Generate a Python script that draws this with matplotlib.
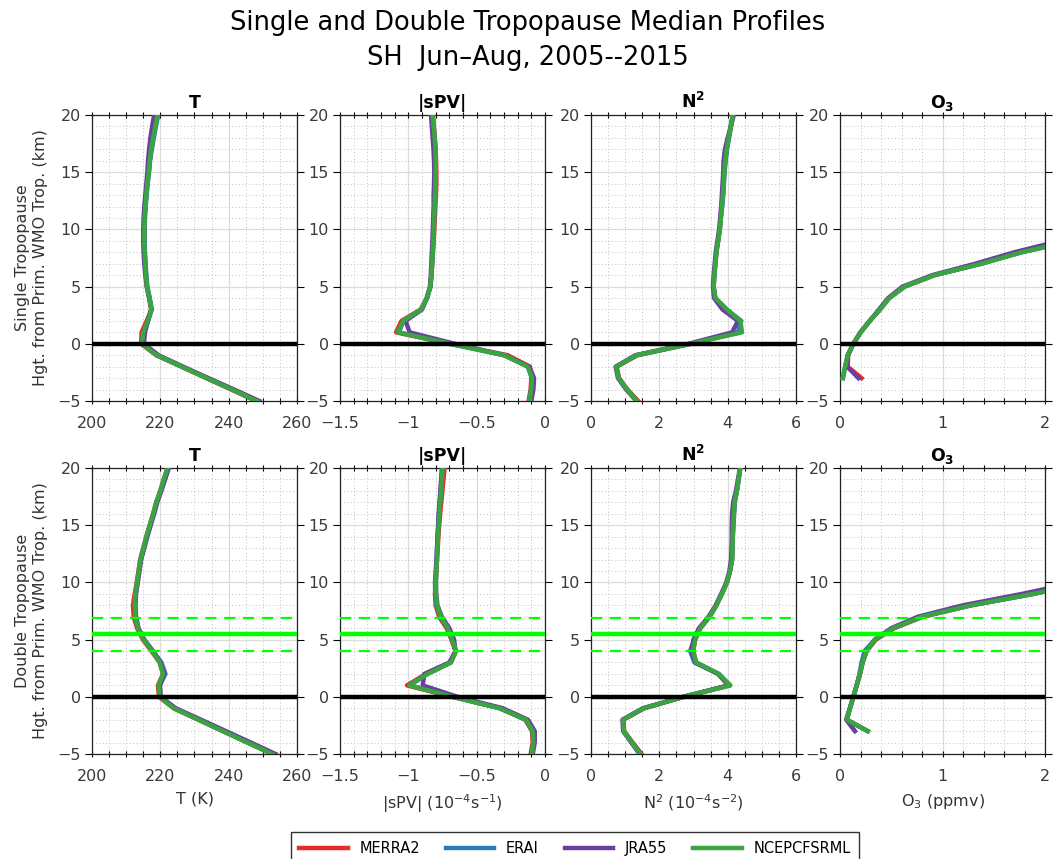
import numpy as np
import matplotlib.pyplot as plt
from matplotlib.ticker import MultipleLocator, FuncFormatter

# heights relative to primary WMO tropopause (km)
hgt = [-5, -4, -3, -2, -1, 0, 1, 2, 3, 4, 5, 6, 7, 8, 9, 10,
       11, 12, 13, 14, 15, 16, 17, 18, 19, 20]
nan = np.nan

datasets = ['MERRA2', 'ERAI', 'JRA55', 'NCEPCFSRML']
colors = ['#e8282b', '#2b7bba', '#6b3fa0', '#3aa540']

# ---- single tropopause ----
t_single_merra = [248.0, 240.8, 233.5, 226.2, 218.8, 214.4, 214.5, 216.0, 217.4, 216.8, 216.1, 215.8, 215.6,
                  215.4, 215.3, 215.3, 215.4, 215.6, 215.9, 216.2, 216.6, 216.9, 217.3, 217.9, 218.5, 219.0]
t_single_erai = [248.3, 241.0, 233.6, 226.3, 219.0, 214.6, 215.1, 216.4, 217.5, 216.9, 216.2, 215.9, 215.7,
                 215.5, 215.4, 215.4, 215.5, 215.7, 216.0, 216.3, 216.7, 217.0, 217.5, 218.1, 218.7, 219.4]
t_single_jra = [249.0, 241.6, 234.1, 226.7, 219.5, 215.2, 215.5, 216.4, 217.3, 216.7, 216.0, 215.6, 215.3,
                215.1, 215.0, 215.0, 215.1, 215.3, 215.6, 215.9, 216.2, 216.4, 216.7, 217.1, 217.6, 218.2]
t_single_ncep = [248.3, 241.0, 233.6, 226.3, 219.0, 214.6, 215.0, 216.3, 217.4, 216.8, 216.1, 215.8, 215.6,
                 215.4, 215.3, 215.3, 215.4, 215.6, 215.9, 216.2, 216.6, 216.9, 217.3, 217.9, 218.5, 219.2]

spv_single_merra = [-0.12, -0.105, -0.10, -0.11, -0.273, -0.69, -1.09, -1.05, -0.91, -0.865, -0.838, -0.83, -0.825,
                    -0.82, -0.815, -0.81, -0.806, -0.802, -0.798, -0.795, -0.795, -0.797, -0.80, -0.806, -0.813, -0.82]
spv_single_erai = [-0.115, -0.10, -0.095, -0.125, -0.295, -0.70, -1.07, -1.035, -0.905, -0.862, -0.838, -0.831, -0.826,
                   -0.821, -0.817, -0.814, -0.811, -0.807, -0.804, -0.801, -0.80, -0.80, -0.802, -0.808, -0.815, -0.822]
spv_single_jra = [-0.10, -0.085, -0.08, -0.115, -0.30, -0.66, -0.99, -1.02, -0.90, -0.865, -0.842, -0.836, -0.832,
                  -0.828, -0.824, -0.821, -0.818, -0.815, -0.815, -0.812, -0.81, -0.812, -0.816, -0.822, -0.828, -0.834]
spv_single_ncep = [-0.115, -0.10, -0.095, -0.127, -0.298, -0.69, -1.078, -1.037, -0.907, -0.864, -0.839, -0.832, -0.827,
                   -0.822, -0.818, -0.815, -0.812, -0.808, -0.805, -0.802, -0.80, -0.80, -0.802, -0.808, -0.815, -0.822]

n2_single_merra = [1.38, 1.07, 0.82, 0.75, 1.36, 2.93, 4.35, 4.30, 3.95, 3.63, 3.59, 3.61, 3.64,
                   3.67, 3.72, 3.77, 3.80, 3.83, 3.86, 3.88, 3.90, 3.93, 3.97, 4.03, 4.10, 4.16]
n2_single_erai = [1.35, 1.05, 0.81, 0.74, 1.33, 2.90, 4.30, 4.40, 3.97, 3.64, 3.59, 3.61, 3.64,
                  3.67, 3.72, 3.77, 3.80, 3.84, 3.87, 3.89, 3.91, 3.94, 3.98, 4.04, 4.09, 4.15]
n2_single_jra = [1.33, 1.03, 0.79, 0.72, 1.30, 2.85, 4.13, 4.30, 3.85, 3.60, 3.57, 3.59, 3.62,
                 3.65, 3.70, 3.75, 3.78, 3.81, 3.83, 3.85, 3.87, 3.88, 3.92, 4.00, 4.09, 4.18]
n2_single_ncep = [1.35, 1.05, 0.81, 0.74, 1.33, 2.90, 4.42, 4.37, 3.98, 3.64, 3.59, 3.61, 3.64,
                  3.67, 3.72, 3.77, 3.80, 3.83, 3.86, 3.88, 3.90, 3.93, 3.97, 4.03, 4.09, 4.15]

o3_single_merra = [nan, nan, 0.21, 0.075, 0.08, 0.13, 0.20, 0.29, 0.39, 0.48, 0.63, 0.92, 1.37,
                   1.76, 2.25, 2.75, 3.25, 3.75, 4.25, 4.75, 5.15, 5.55, 5.95, 6.35, 6.65, 6.95]
o3_single_erai = [nan, nan, 0.03, 0.05, 0.075, 0.13, 0.20, 0.29, 0.39, 0.48, 0.63, 0.92, 1.38,
                  1.77, 2.28, 2.8, 3.3, 3.8, 4.3, 4.8, 5.2, 5.6, 6.0, 6.4, 6.7, 7.0]
o3_single_jra = [nan, nan, 0.18, 0.07, 0.075, 0.13, 0.20, 0.29, 0.38, 0.47, 0.61, 0.90, 1.32,
                 1.70, 2.15, 2.65, 3.15, 3.65, 4.15, 4.65, 5.05, 5.45, 5.85, 6.25, 6.55, 6.85]
o3_single_ncep = [nan, nan, 0.026, 0.05, 0.075, 0.13, 0.20, 0.29, 0.39, 0.48, 0.63, 0.92, 1.38,
                  1.77, 2.28, 2.8, 3.3, 3.8, 4.3, 4.8, 5.2, 5.6, 6.0, 6.4, 6.7, 7.0]

# ---- double tropopause ----
t_double_merra = [252.7, 245.5, 238.3, 231.1, 223.9, 219.6, 219.3, 220.8, 219.8, 217.4, 214.9, 213.2, 212.2,
                  212.0, 212.5, 213.1, 213.6, 214.1, 215.0, 215.9, 216.9, 217.9, 218.8, 220.0, 221.0, 222.1]
t_double_erai = [252.9, 245.7, 238.5, 231.3, 224.1, 220.0, 219.8, 221.5, 220.3, 217.8, 215.2, 213.5, 212.8,
                 212.6, 212.8, 213.3, 213.8, 214.3, 215.2, 216.0, 217.0, 218.0, 218.9, 220.1, 221.1, 222.3]
t_double_jra = [253.7, 246.5, 239.2, 231.9, 224.5, 220.1, 219.9, 221.2, 220.1, 217.8, 215.3, 213.6, 212.9,
                212.7, 212.9, 213.4, 213.9, 214.4, 215.3, 216.2, 217.2, 218.2, 219.1, 220.3, 221.4, 222.5]
t_double_ncep = [252.7, 245.5, 238.3, 231.1, 223.9, 219.8, 219.5, 220.8, 219.8, 217.6, 215.1, 213.4, 212.7,
                 212.5, 212.7, 213.2, 213.7, 214.2, 215.1, 215.9, 216.9, 217.9, 218.8, 220.0, 221.0, 222.1]

spv_double_merra = [-0.105, -0.09, -0.095, -0.145, -0.32, -0.68, -1.01, -0.87, -0.69, -0.655, -0.685, -0.72, -0.775,
                    -0.80, -0.805, -0.80, -0.795, -0.79, -0.785, -0.78, -0.774, -0.767, -0.759, -0.751, -0.743, -0.735]
spv_double_erai = [-0.097, -0.085, -0.09, -0.139, -0.334, -0.675, -0.99, -0.86, -0.69, -0.652, -0.68, -0.712, -0.765,
                   -0.795, -0.803, -0.805, -0.80, -0.794, -0.79, -0.786, -0.78, -0.775, -0.769, -0.763, -0.757, -0.751]
spv_double_jra = [-0.09, -0.075, -0.075, -0.125, -0.31, -0.64, -0.895, -0.883, -0.70, -0.655, -0.665, -0.70, -0.755,
                  -0.787, -0.796, -0.798, -0.797, -0.793, -0.79, -0.787, -0.782, -0.778, -0.772, -0.766, -0.76, -0.755]
spv_double_ncep = [-0.097, -0.085, -0.09, -0.139, -0.334, -0.675, -0.993, -0.859, -0.688, -0.651, -0.68, -0.712, -0.761,
                   -0.79, -0.798, -0.798, -0.795, -0.79, -0.787, -0.783, -0.778, -0.773, -0.767, -0.761, -0.755, -0.749]

n2_double_merra = [1.48, 1.22, 0.97, 0.95, 1.56, 2.72, 4.02, 3.72, 3.08, 2.99, 3.05, 3.20, 3.47,
                   3.67, 3.83, 3.98, 4.07, 4.13, 4.14, 4.15, 4.16, 4.18, 4.20, 4.27, 4.32, 4.37]
n2_double_erai = [1.44, 1.20, 0.96, 0.94, 1.54, 2.71, 4.06, 3.74, 3.03, 2.90, 3.02, 3.20, 3.47,
                  3.67, 3.83, 3.98, 4.07, 4.13, 4.14, 4.15, 4.17, 4.19, 4.21, 4.27, 4.32, 4.37]
n2_double_jra = [1.42, 1.18, 0.94, 0.92, 1.52, 2.70, 4.05, 3.72, 3.05, 2.95, 3.00, 3.16, 3.44,
                 3.65, 3.81, 3.96, 4.05, 4.10, 4.11, 4.12, 4.12, 4.13, 4.16, 4.24, 4.30, 4.36]
n2_double_ncep = [1.44, 1.20, 0.96, 0.94, 1.54, 2.71, 4.08, 3.74, 3.08, 2.99, 3.05, 3.20, 3.47,
                  3.67, 3.83, 3.98, 4.07, 4.13, 4.14, 4.15, 4.16, 4.18, 4.20, 4.27, 4.32, 4.37]

o3_double_merra = [nan, nan, 0.27, 0.065, 0.098, 0.13, 0.163, 0.195, 0.22, 0.26, 0.35, 0.53, 0.81,
                   1.28, 1.89, 2.4, 2.9, 3.3, 3.7, 4.1, 4.5, 4.8, 5.1, 5.4, 5.7, 6.0]
o3_double_erai = [nan, nan, 0.27, 0.065, 0.098, 0.13, 0.163, 0.19, 0.21, 0.24, 0.34, 0.52, 0.80,
                  1.28, 1.89, 2.4, 2.9, 3.3, 3.7, 4.1, 4.5, 4.8, 5.1, 5.4, 5.7, 6.0]
o3_double_jra = [nan, nan, 0.146, 0.06, 0.095, 0.13, 0.163, 0.195, 0.22, 0.26, 0.34, 0.50, 0.76,
                 1.20, 1.78, 2.3, 2.8, 3.2, 3.6, 4.0, 4.4, 4.7, 5.0, 5.3, 5.6, 5.9]
o3_double_ncep = [nan, nan, 0.27, 0.065, 0.098, 0.13, 0.163, 0.195, 0.22, 0.26, 0.34, 0.52, 0.80,
                  1.28, 1.89, 2.4, 2.9, 3.3, 3.7, 4.1, 4.5, 4.8, 5.1, 5.4, 5.7, 6.0]

# second tropopause mean height and spread (km)
trop2_mean = 5.45
trop2_low = 4.0
trop2_high = 6.9

rows = [
    [[t_single_merra, t_single_erai, t_single_jra, t_single_ncep],
     [spv_single_merra, spv_single_erai, spv_single_jra, spv_single_ncep],
     [n2_single_merra, n2_single_erai, n2_single_jra, n2_single_ncep],
     [o3_single_merra, o3_single_erai, o3_single_jra, o3_single_ncep]],
    [[t_double_merra, t_double_erai, t_double_jra, t_double_ncep],
     [spv_double_merra, spv_double_erai, spv_double_jra, spv_double_ncep],
     [n2_double_merra, n2_double_erai, n2_double_jra, n2_double_ncep],
     [o3_double_merra, o3_double_erai, o3_double_jra, o3_double_ncep]],
]

titles = ['T', '|sPV|', r'$\mathbf{N^2}$', r'$\mathbf{O_3}$']
xlabels = ['T (K)', r'|sPV| (10$^{-4}$s$^{-1}$)', r'N$^2$ (10$^{-4}$s$^{-2}$)', r'O$_3$ (ppmv)']
xlims = [(200, 260), (-1.5, 0), (0, 6), (0, 2)]
xmajor = [20, 0.5, 2, 1]
xminor = [5, 0.1, 0.5, 0.2]
ylabels = ['Single Tropopause\nHgt. from Prim. WMO Trop. (km)',
           'Double Tropopause\nHgt. from Prim. WMO Trop. (km)']

W, H = 1055, 859
fig = plt.figure(figsize=(W / 100, H / 100), dpi=100)

lefts = [92, 340, 591, 840]
pw = 205
tops = [115, 468]
ph = 286
tick_col = '#3a3a3a'
fmt = FuncFormatter(lambda v, p: ('%g' % v).replace('-', '\u2212'))

lines = []
for r in range(2):
    for c in range(4):
        ax = fig.add_axes([lefts[c] / W, 1 - (tops[r] + ph) / H, pw / W, ph / H])
        for k in range(4):
            ln, = ax.plot(rows[r][c][k], hgt, color=colors[k], lw=3.2,
                          solid_joinstyle='round', zorder=3)
            if r == 0 and c == 0:
                lines.append(ln)
        ax.axhline(0, color='black', lw=3.2, zorder=5)
        if r == 1:
            ax.axhline(trop2_mean, color='#00ff00', lw=3.2, zorder=6)
            ax.axhline(trop2_low, color='#00ff00', lw=1.6, ls=(0, (5, 3.5)), zorder=6)
            ax.axhline(trop2_high, color='#00ff00', lw=1.6, ls=(0, (5, 3.5)), zorder=6)
        ax.set_xlim(*xlims[c])
        ax.set_ylim(-5, 20)
        ax.xaxis.set_major_locator(MultipleLocator(xmajor[c]))
        ax.xaxis.set_minor_locator(MultipleLocator(xminor[c]))
        ax.yaxis.set_major_locator(MultipleLocator(5))
        ax.yaxis.set_minor_locator(MultipleLocator(1))
        ax.xaxis.set_major_formatter(fmt)
        ax.yaxis.set_major_formatter(fmt)
        ax.grid(which='major', color='#dcdcdc', lw=0.9)
        ax.grid(which='minor', color='#c0c0c0', lw=0.7, ls=(0, (1, 2.5)))
        ax.set_axisbelow(True)
        ax.tick_params(axis='x', which='both', top=True, direction='inout',
                       length=5, width=0.8, labelsize=11.5, labelcolor=tick_col, pad=8)
        ax.tick_params(axis='y', which='major', right=True, direction='out',
                       length=5, width=0.8, labelsize=11.5, labelcolor=tick_col, pad=3)
        ax.tick_params(axis='y', which='minor', length=0)
        for s in ax.spines.values():
            s.set_color('#222222')
            s.set_linewidth(0.9)
        ax.set_title(titles[c], fontsize=12.5, fontweight='bold', pad=5)
        if c == 0:
            ax.set_ylabel(ylabels[r], fontsize=11.5, color='#333333', labelpad=7)
        if r == 1:
            ax.set_xlabel(xlabels[c], fontsize=11.5, color='#333333', labelpad=6)

fig.suptitle('Single and Double Tropopause Median Profiles\nSH  Jun\u2013Aug, 2005--2015',
             fontsize=18.5, y=0.988, linespacing=1.45)

fig.legend(lines, datasets, loc='upper center', bbox_to_anchor=(575 / W, 1 - 825 / H),
           ncol=4, frameon=True, fancybox=False, edgecolor='black', fontsize=10.5,
           handlelength=3.3, columnspacing=1.8, borderpad=0.6)

fig.savefig('out.png', dpi=100)
